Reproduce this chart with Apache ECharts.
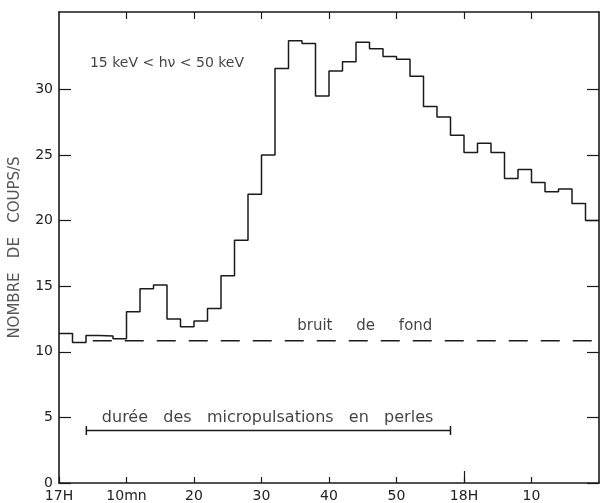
<!DOCTYPE html>
<html>
<head>
<meta charset="utf-8">
<script src="https://cdn.jsdelivr.net/npm/echarts@6/dist/echarts.min.js"></script>
<style>
html,body{margin:0;padding:0;background:#fff;}
#c{width:601px;height:503px;}
</style>
</head>
<body>
<div id="c"></div>
<script>
// Bin start times (minutes after 17H), 2-minute bins
const binStart = [0,2,4,6,8,10,12,14,16,18,20,22,24,26,28,30,32,34,36,38,
                  40,42,44,46,48,50,52,54,56,58,60,62,64,66,68,70,72,74,76,78];
const binEnd = 80;
// Counting rate (coups/s) per bin
const counts = [11.4,10.7,11.25,11.2,11.0,13.05,14.8,15.1,12.5,11.9,
                12.35,13.3,15.8,18.5,22.0,25.0,31.6,33.7,33.5,29.5,
                31.4,32.1,33.6,33.1,32.5,32.3,31.0,28.7,27.9,26.5,
                25.2,25.9,25.2,23.2,23.9,22.9,22.2,22.4,21.3,20.0];
// Background level ("bruit de fond")
const bgLevel = 10.85;
const bgSpan = [5, 79];
// Duration of pearl micropulsations
const pulseLevel = 4.0;
const pulseSpan = [4.05, 58.0];
// Axis ticks
const xTicks = [0,10,20,30,40,50,60,70];
const xTickLabels = ['17H','10mn','20','30','40','50','18H','10'];
const yTicks = [0,5,10,15,20,25,30];

const histData = binStart.map((m,i)=>[m, counts[i]]);
histData.push([binEnd, counts[counts.length-1]]);

const ink = '#1a1a1a';
const font = 'DejaVu Sans';

const chart = echarts.init(document.getElementById('c'), null, {renderer:'canvas'});
chart.setOption({
  animation:false,
  backgroundColor:'#fff',
  grid:{left:58, right:2, top:12, bottom:20},
  xAxis:[{
    type:'value', min:0, max:80, interval:10, position:'bottom',
    axisLine:{show:true, onZero:false, lineStyle:{color:ink, width:1.6}},
    axisTick:{show:true, inside:true, length:6, lineStyle:{color:ink, width:1.2}, customValues:xTicks},
    axisLabel:{show:true, margin:6, color:'#222', fontFamily:font, fontSize:14,
      customValues:xTicks,
      formatter:function(v){const i=xTicks.indexOf(v);return i>=0?xTickLabels[i]:'';}},
    splitLine:{show:false}
  },{
    type:'value', min:0, max:80, interval:10, position:'top',
    axisLine:{show:true, onZero:false, lineStyle:{color:ink, width:1.6}},
    axisTick:{show:true, inside:true, length:7, lineStyle:{color:ink, width:1.2}, customValues:xTicks.slice(1)},
    axisLabel:{show:false}, splitLine:{show:false}
  },{
    type:'value', min:0, max:80, position:'bottom',
    axisLine:{show:false, onZero:false},
    axisTick:{show:true, inside:true, length:12, lineStyle:{color:ink, width:1.2}, customValues:[60]},
    axisLabel:{show:false}, splitLine:{show:false}
  }],
  yAxis:[{
    type:'value', min:0, max:35.9, position:'left',
    name:'NOMBRE   DE   COUPS/S', nameLocation:'middle', nameGap:36, nameRotate:90,
    nameTextStyle:{color:'#555', fontFamily:font, fontSize:15},
    axisLine:{show:true, onZero:false, lineStyle:{color:ink, width:1.6}},
    axisTick:{show:true, inside:true, length:12, lineStyle:{color:ink, width:1.2}, customValues:yTicks},
    axisLabel:{show:true, margin:6, color:'#222', fontFamily:font, fontSize:14, customValues:yTicks},
    splitLine:{show:false}
  },{
    type:'value', min:0, max:35.9, position:'right',
    axisLine:{show:true, onZero:false, lineStyle:{color:ink, width:1.6}},
    axisTick:{show:true, inside:true, length:12, lineStyle:{color:ink, width:1.2}, customValues:yTicks},
    axisLabel:{show:false}, splitLine:{show:false}
  }],
  series:[{
    type:'line', step:'end', data:histData, showSymbol:false, symbol:'none',
    lineStyle:{color:ink, width:1.5}, silent:true
  },{
    type:'line', data:[[bgSpan[0],bgLevel],[bgSpan[1],bgLevel]], symbol:'none',
    lineStyle:{color:ink, width:1.5, type:[19,13]}, silent:true
  },{
    type:'line', data:[[pulseSpan[0],pulseLevel],[pulseSpan[1],pulseLevel]],
    symbol:'rect', symbolSize:[1.5,9], showSymbol:true,
    itemStyle:{color:ink}, lineStyle:{color:ink, width:1.3}, silent:true
  },{
    type:'scatter', symbolSize:0, silent:true,
    data:[
      {value:[16.0,32.0], label:{formatter:'15 keV < hν < 50 keV', fontSize:14}},
      {value:[45.3,11.95], label:{formatter:'bruit     de     fond'}},
      {value:[30.9,4.94], label:{formatter:'durée   des   micropulsations   en   perles', fontSize:16}}
    ],
    label:{show:true, position:'inside', color:'#111', fontFamily:font, fontSize:15}
  }]
});
</script>
</body>
</html>
